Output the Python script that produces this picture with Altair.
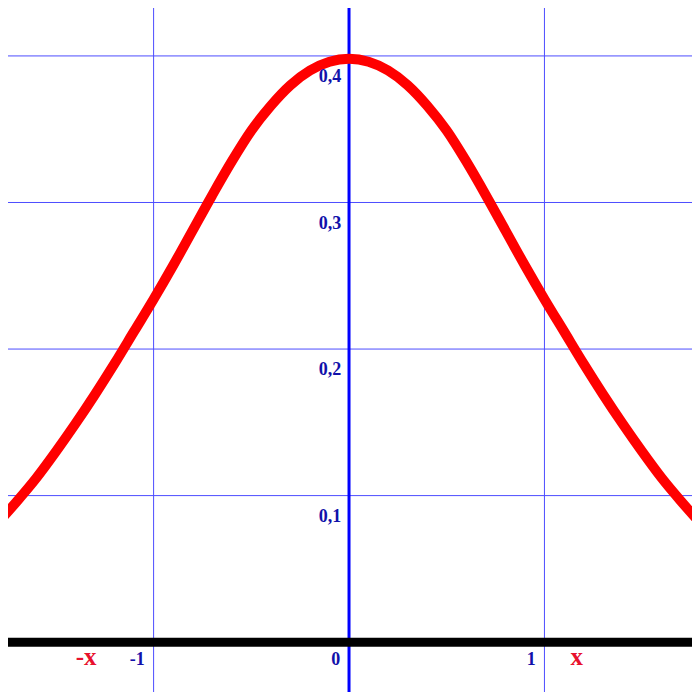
import altair as alt
import pandas as pd

# curve values
curve_x = [-1.8, -1.7, -1.6, -1.5, -1.4, -1.3, -1.2, -1.1, -1.0, -0.9, -0.8, -0.7, -0.6, -0.5, -0.4, -0.3, -0.2, -0.1,
           0.0, 0.1, 0.2, 0.3, 0.4, 0.5, 0.6, 0.7, 0.8, 0.9, 1.0, 1.1, 1.2, 1.3, 1.4, 1.5, 1.6, 1.7, 1.8]
curve_y = [0.081, 0.096, 0.112, 0.130, 0.149, 0.169, 0.190, 0.212, 0.234, 0.257, 0.281, 0.305, 0.328, 0.349, 0.366, 0.380, 0.390, 0.396,
           0.398, 0.396, 0.390, 0.380, 0.366, 0.349, 0.328, 0.305, 0.281, 0.257, 0.234, 0.212, 0.190, 0.169, 0.149, 0.130, 0.112, 0.096, 0.081]

grid_x = [-1, 1]
grid_y = [0.1, 0.2, 0.3, 0.4]

y_tick_values = [0.1, 0.2, 0.3, 0.4]
y_tick_labels = ["0,1", "0,2", "0,3", "0,4"]
x_tick_values = [-1, 0, 1]
x_tick_labels = ["-1", "0", "1"]
x_mark_pos = [-1.345, 1.165]
x_mark_labels = ["-x", "x"]

XD = [-1.745, 1.755]
YD = [-0.034, 0.4327]

xs = alt.Scale(domain=XD, nice=False, zero=False)
ys = alt.Scale(domain=YD, nice=False, zero=False)

curve = pd.DataFrame({"x": curve_x, "y": curve_y})
gx = pd.DataFrame({"x": grid_x})
gy = pd.DataFrame({"y": grid_y})
ylab = pd.DataFrame({"v": y_tick_values, "t": y_tick_labels})
ylab["x"] = -0.04
ylab["y"] = ylab["v"] - 0.0178
xlab = pd.DataFrame({"v": x_tick_values, "t": x_tick_labels})
xlab["x"] = xlab["v"] - 0.045
xlab["y"] = -0.0155
xm = pd.DataFrame({"x": x_mark_pos, "t": x_mark_labels})
xm["y"] = -0.0155

vgrid = alt.Chart(gx).mark_rule(color="#4d4dff", strokeWidth=1).encode(
    x=alt.X("x:Q", scale=xs, axis=None))
hgrid = alt.Chart(gy).mark_rule(color="#4d4dff", strokeWidth=1).encode(
    y=alt.Y("y:Q", scale=ys, axis=None))
yaxis = alt.Chart(pd.DataFrame({"x": [0]})).mark_rule(color="#0000ff", strokeWidth=3).encode(
    x=alt.X("x:Q", scale=xs, axis=None))
xaxis = alt.Chart(pd.DataFrame({"y": [0]})).mark_rule(color="#000000", strokeWidth=9).encode(
    y=alt.Y("y:Q", scale=ys, axis=None))
line = alt.Chart(curve).mark_line(color="#ff0000", strokeWidth=10, interpolate="monotone", clip=True).encode(
    x=alt.X("x:Q", scale=xs, axis=None), y=alt.Y("y:Q", scale=ys, axis=None))

ytext = alt.Chart(ylab).mark_text(align="right", baseline="alphabetic", font="Liberation Serif",
                                  fontWeight="bold", fontSize=18, color="#1111aa").encode(
    x=alt.X("x:Q", scale=xs, axis=None), y=alt.Y("y:Q", scale=ys, axis=None), text="t:N")
xtext = alt.Chart(xlab).mark_text(align="right", baseline="alphabetic", font="Liberation Serif",
                                  fontWeight="bold", fontSize=18, color="#1111aa").encode(
    x=alt.X("x:Q", scale=xs, axis=None), y=alt.Y("y:Q", scale=ys, axis=None), text="t:N")
xmtext = alt.Chart(xm).mark_text(align="center", baseline="alphabetic", font="Liberation Serif",
                                 fontWeight="bold", fontSize=25, color="#e8112d").encode(
    x=alt.X("x:Q", scale=xs, axis=None), y=alt.Y("y:Q", scale=ys, axis=None), text="t:N")

chart = alt.layer(vgrid, hgrid, yaxis, xaxis, line, ytext, xtext, xmtext).properties(
    width=684, height=684, padding=0, autosize=alt.AutoSizeParams(type="none"),
    background="#ffffff"
).configure_view(strokeWidth=0)

chart.save("out.html", embed_options={"renderer": "svg", "actions": False})
